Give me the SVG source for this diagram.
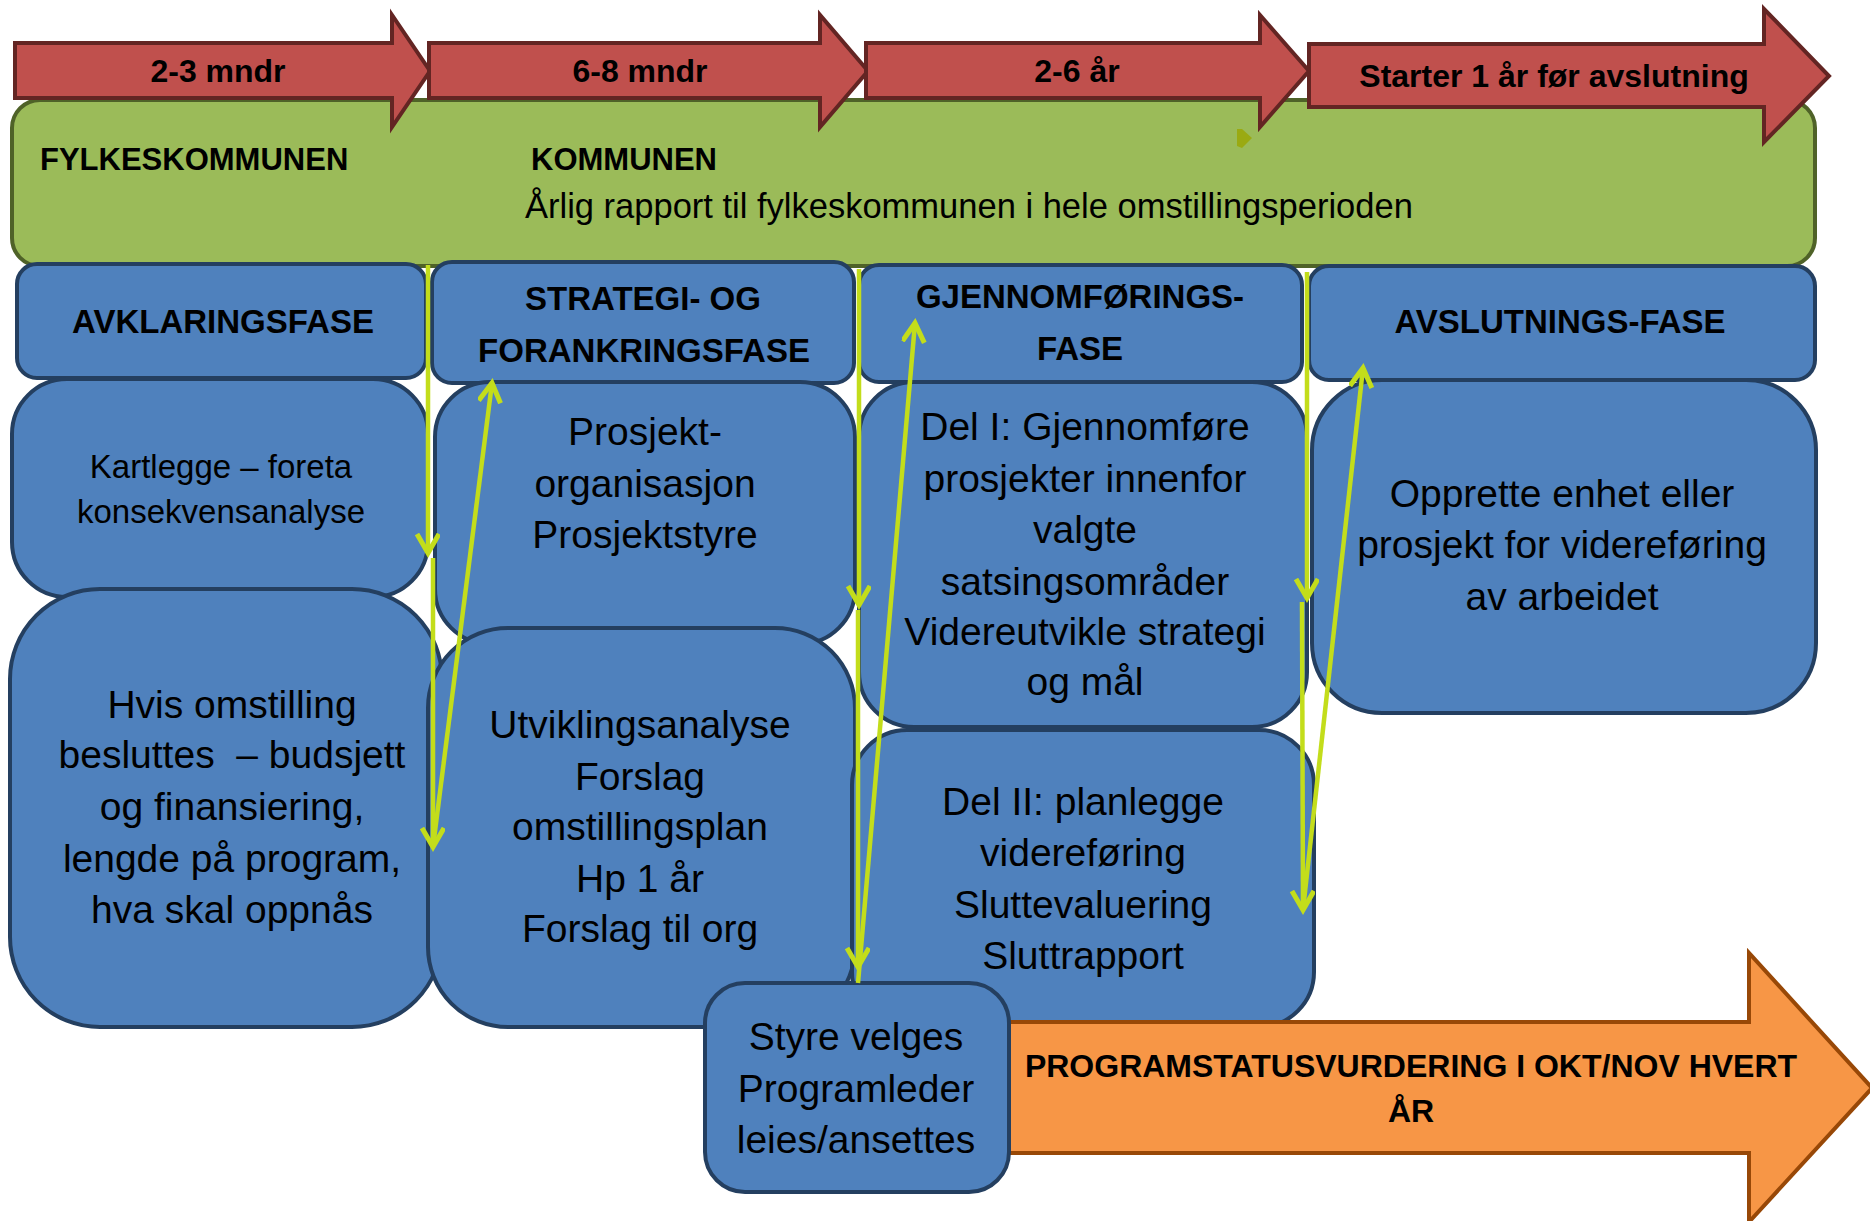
<svg xmlns="http://www.w3.org/2000/svg" width="1870" height="1221" viewBox="0 0 1870 1221">
<style>
.red{fill:#C0504D;stroke:#632523;stroke-width:4}
.grn{fill:#9BBB59;stroke:#4F6228;stroke-width:4}
.blue{fill:#4F81BD;stroke:#243F60;stroke-width:4}
.org{fill:#F79646;stroke:#984807;stroke-width:4}
text{font-family:"Liberation Sans",Arial,sans-serif;fill:#000}
.b{font-weight:bold}
.hd{font-weight:bold;font-size:33px;text-anchor:middle}
.ar{font-weight:bold;font-size:32px;text-anchor:middle}
.t{font-size:39px;text-anchor:middle}
.s{font-size:33px;text-anchor:middle}
.con{fill:none;stroke:#C3DD1B;stroke-width:4.5}
</style>
<defs>
<marker id="ah" markerWidth="30" markerHeight="30" refX="20" refY="12" orient="auto" markerUnits="userSpaceOnUse">
<path d="M1,1 L20,12 L1,23" fill="none" stroke="#C3DD1B" stroke-width="5"/>
</marker>
</defs>
<rect width="1870" height="1221" fill="#fff"/>

<g id="kommunen">
<rect class="grn" x="12" y="100" width="1803" height="166" rx="28"/>
<text class="b" x="40" y="170" font-size="31">FYLKESKOMMUNEN</text>
<text class="b" x="531" y="170" font-size="31">KOMMUNEN</text>
<text x="525" y="218" font-size="34.5">Årlig rapport til fylkeskommunen i hele omstillingsperioden</text>
<polygon points="1237,129 1242,129 1252,138 1242,148 1237,146" fill="#9AAA12"/>
</g>

<g id="arrow-1">
<path class="red" d="M15,43 H392 V15 L430,71 L392,127 V98 H15 Z"/>
<text class="ar" x="218" y="82">2-3 mndr</text>
</g>
<g id="arrow-2">
<path class="red" d="M429,43 H820 V15 L868,71 L820,127 V98 H429 Z"/>
<text class="ar" x="640" y="82">6-8 mndr</text>
</g>
<g id="arrow-3">
<path class="red" d="M866,43 H1260 V15 L1309,71 L1260,127 V98 H866 Z"/>
<text class="ar" x="1077" y="82">2-6 år</text>
</g>
<g id="arrow-4">
<path class="red" d="M1309,44 H1764 V9 L1829,76 L1764,142 V107 H1309 Z"/>
<text class="ar" x="1554" y="87">Starter 1 år før avslutning</text>
</g>

<g id="avklaringsfase">
<rect class="blue" x="17" y="264" width="409" height="114" rx="20"/>
<text class="hd" x="223" y="333">AVKLARINGSFASE</text>
</g>
<g id="strategifase">
<rect class="blue" x="432" y="262" width="422" height="121" rx="20"/>
<text class="hd" x="643" y="310">STRATEGI- OG</text>
<text class="hd" x="644" y="362">FORANKRINGSFASE</text>
</g>
<g id="gjennomforingsfase">
<rect class="blue" x="859" y="265" width="443" height="117" rx="20"/>
<text class="hd" x="1080" y="308">GJENNOMFØRINGS-</text>
<text class="hd" x="1080" y="360">FASE</text>
</g>
<g id="avslutningsfase">
<rect class="blue" x="1309" y="266" width="506" height="114" rx="20"/>
<text class="hd" x="1560" y="333">AVSLUTNINGS-FASE</text>
</g>

<g id="kartlegge">
<rect class="blue" x="12" y="379" width="416" height="218" rx="55"/>
<text class="s" x="221" y="478">Kartlegge – foreta</text>
<text class="s" x="221" y="523">konsekvensanalyse</text>
</g>
<g id="prosjekt">
<rect class="blue" x="435" y="382" width="420" height="262" rx="55"/>
<text class="t" x="645" y="445">Prosjekt-</text>
<text class="t" x="645" y="497">organisasjon</text>
<text class="t" x="645" y="548">Prosjektstyre</text>
</g>
<g id="hvis">
<rect class="blue" x="10" y="589" width="432" height="438" rx="90"/>
<text class="t" x="232" y="718">Hvis omstilling</text>
<text class="t" x="232" y="768" xml:space="preserve">besluttes  – budsjett</text>
<text class="t" x="232" y="820">og finansiering,</text>
<text class="t" x="232" y="872">lengde på program,</text>
<text class="t" x="232" y="923">hva skal oppnås</text>
</g>
<g id="utviklingsanalyse">
<rect class="blue" x="428" y="628" width="427" height="399" rx="80"/>
<text class="t" x="640" y="738">Utviklingsanalyse</text>
<text class="t" x="640" y="790">Forslag</text>
<text class="t" x="640" y="840">omstillingsplan</text>
<text class="t" x="640" y="892">Hp 1 år</text>
<text class="t" x="640" y="942">Forslag til org</text>
</g>
<g id="del-1">
<rect class="blue" x="859" y="382" width="448" height="345" rx="55"/>
<text class="t" x="1085" y="440">Del I: Gjennomføre</text>
<text class="t" x="1085" y="492">prosjekter innenfor</text>
<text class="t" x="1085" y="543">valgte</text>
<text class="t" x="1085" y="595">satsingsområder</text>
<text class="t" x="1085" y="645">Videreutvikle strategi</text>
<text class="t" x="1085" y="695">og mål</text>
</g>
<g id="del-2">
<rect class="blue" x="852" y="730" width="462" height="297" rx="55"/>
<text class="t" x="1083" y="815">Del II: planlegge</text>
<text class="t" x="1083" y="866">videreføring</text>
<text class="t" x="1083" y="918">Sluttevaluering</text>
<text class="t" x="1083" y="969">Sluttrapport</text>
</g>
<g id="opprette">
<rect class="blue" x="1312" y="380" width="504" height="333" rx="70"/>
<text class="t" x="1562" y="507">Opprette enhet eller</text>
<text class="t" x="1562" y="558">prosjekt for videreføring</text>
<text class="t" x="1562" y="610">av arbeidet</text>
</g>

<g id="programstatus">
<path class="org" d="M1005,1022 H1749 V953 L1872,1088 L1749,1222 V1153 H1005 Z"/>
<text class="ar" x="1411" y="1077" font-size="31">PROGRAMSTATUSVURDERING I OKT/NOV HVERT</text>
<text class="ar" x="1411" y="1122" font-size="31">ÅR</text>
</g>

<g id="styre">
<rect class="blue" x="705" y="983" width="304" height="209" rx="40"/>
<text class="t" x="856" y="1050">Styre velges</text>
<text class="t" x="856" y="1102">Programleder</text>
<text class="t" x="856" y="1153">leies/ansettes</text>
</g>

<g id="connectors">
<path class="con" d="M428,265 V553" marker-end="url(#ah)"/>
<path class="con" d="M433,558 V847" marker-end="url(#ah)"/>
<path class="con" d="M433,847 L492,383" marker-end="url(#ah)"/>
<path class="con" d="M859,269 V605" marker-end="url(#ah)"/>
<path class="con" d="M858,610 V967" marker-end="url(#ah)"/>
<path class="con" d="M858,983 L915,323" marker-end="url(#ah)"/>
<path class="con" d="M1307,272 V598" marker-end="url(#ah)"/>
<path class="con" d="M1302,602 L1303,910" marker-end="url(#ah)"/>
<path class="con" d="M1303,910 L1363,368" marker-end="url(#ah)"/>
</g>
</svg>
